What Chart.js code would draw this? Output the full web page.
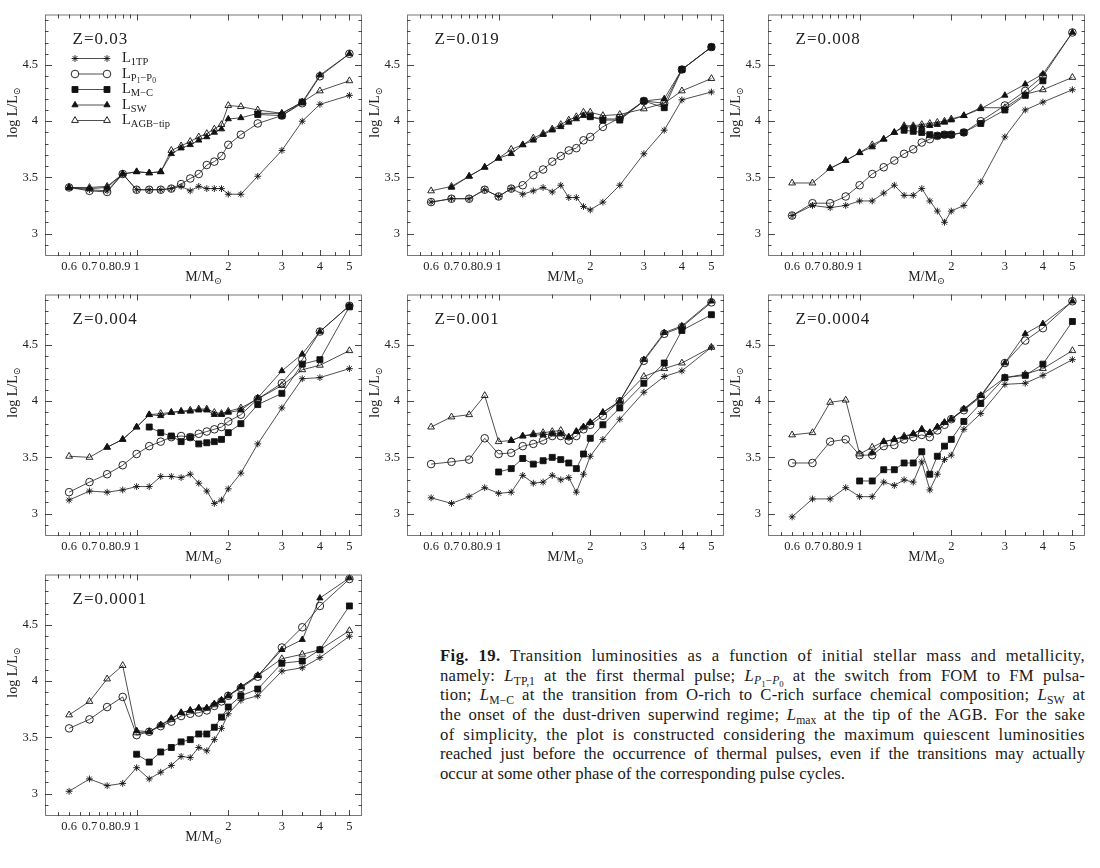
<!DOCTYPE html>
<html>
<head>
<meta charset="utf-8">
<script src="https://cdn.jsdelivr.net/npm/chart.js@4.4.1/dist/chart.umd.min.js"></script>
<style>
  html, body { margin: 0; padding: 0; background: #fff; }
  body { width: 1100px; height: 868px; position: relative; overflow: hidden; }
  canvas.panel { position: absolute; }
  #caption { position: absolute; left: 440px; top: 646px; width: 645px; color: #1a1a1a;
    font-family: "Liberation Serif", "DejaVu Serif", serif; font-size: 16.7px; line-height: 19.67px; }
  #caption div { white-space: nowrap; text-align: justify; text-align-last: justify; }
  #caption div.last { text-align-last: left; }
  #caption div.loose { letter-spacing: 0.4px; }
  #caption div.mid { letter-spacing: 0.2px; }
  #caption sub { font-size: 70%; line-height: 0; vertical-align: -0.3em; letter-spacing: 0; }
  #caption sub sub { font-size: 75%; }
</style>
</head>
<body>
<div id="caption">
  <div class="loose"><b>Fig. 19.</b> Transition luminosities as a function of initial stellar mass and metallicity,</div>
  <div class="mid">namely: <i>L</i><sub>TP,1</sub> at the first thermal pulse; <i>L</i><sub><i>P</i><sub>1</sub>−<i>P</i><sub>0</sub></sub> at the switch from FOM to FM pulsa-</div>
  <div class="mid">tion; <i>L</i><sub>M−C</sub> at the transition from O-rich to C-rich surface chemical composition; <i>L</i><sub>SW</sub> at</div>
  <div class="mid">the onset of the dust-driven superwind regime; <i>L</i><sub>max</sub> at the tip of the AGB. For the sake</div>
  <div class="loose">of simplicity, the plot is constructed considering the maximum quiescent luminosities</div>
  <div>reached just before the occurrence of thermal pulses, even if the transitions may actually</div>
  <div class="last">occur at some other phase of the corresponding pulse cycles.</div>
</div>
<script>
// initial stellar masses (M/Msun) shared by all panels
const masses = [0.6, 0.7, 0.8, 0.9, 1.0, 1.1, 1.2, 1.3, 1.4, 1.5, 1.6, 1.7, 1.8, 1.9, 2.0, 2.2, 2.5, 3.0, 3.5, 4.0, 5.0];
const xTickValues = [0.6, 0.7, 0.8, 0.9, 1, 2, 3, 4, 5];
const yTickValues = [3, 3.5, 4, 4.5];
const xMinorTicks = [0.55, 0.6, 0.65, 0.7, 0.75, 0.8, 0.85, 0.9, 0.95, 1, 1.5, 2, 2.5, 3, 3.5, 4, 4.5, 5];
const yMinorTicks = [2.9, 3, 3.1, 3.2, 3.3, 3.4, 3.5, 3.6, 3.7, 3.8, 3.9, 4, 4.1, 4.2, 4.3, 4.4, 4.5, 4.6, 4.7, 4.8, 4.9];

// Z = 0.03
const tp_z003   = [3.41, 3.39, 3.38, 3.53, 3.39, 3.39, 3.39, 3.40, 3.42, 3.38, 3.42, 3.40, 3.40, 3.40, 3.35, 3.35, 3.51, 3.74, 4.00, 4.15, 4.23];
const p1p0_z003 = [3.41, 3.38, 3.37, 3.53, 3.39, 3.39, 3.39, 3.40, 3.44, 3.49, 3.53, 3.61, 3.64, 3.69, 3.79, 3.88, 3.98, 4.05, 4.16, 4.40, 4.60];
const mc_z003   = [null, null, null, null, null, null, null, null, null, null, null, null, null, null, null, null, 4.06, 4.05, 4.17, null, null];
const sw_z003   = [3.41, 3.40, 3.41, 3.53, 3.55, 3.54, 3.55, 3.71, 3.76, 3.79, 3.83, 3.86, 3.90, 3.93, 4.02, 4.03, 4.07, 4.07, 4.17, 4.41, 4.60];
const tip_z003  = [3.41, 3.41, 3.42, 3.53, 3.55, 3.54, 3.55, 3.74, 3.78, 3.82, 3.86, 3.89, 3.93, 3.97, 4.14, 4.13, 4.10, 4.07, 4.17, 4.27, 4.36];

// Z = 0.019
const tp_z0019   = [3.28, 3.31, 3.31, 3.39, 3.33, 3.40, 3.35, 3.38, 3.41, 3.37, 3.43, 3.32, 3.32, 3.24, 3.21, 3.28, 3.43, 3.71, 3.92, 4.19, 4.26];
const p1p0_z0019 = [3.28, 3.31, 3.31, 3.39, 3.33, 3.40, 3.43, 3.52, 3.57, 3.64, 3.69, 3.74, 3.76, 3.83, 3.86, 3.95, 4.03, 4.18, 4.16, 4.46, 4.66];
const mc_z0019   = [null, null, null, null, null, null, null, null, null, null, null, null, null, null, 4.04, 4.01, 4.01, 4.18, 4.12, 4.46, 4.66];
const sw_z0019   = [null, 3.41, 3.51, 3.59, 3.67, 3.71, 3.79, 3.83, 3.88, 3.92, 3.95, 3.99, 4.02, 4.05, 4.04, 4.02, 4.02, 4.18, 4.20, 4.46, 4.66];
const tip_z0019  = [3.38, 3.42, 3.51, 3.59, 3.67, 3.75, 3.79, 3.85, 3.89, 3.93, 3.97, 4.01, 4.04, 4.08, 4.08, 4.05, 4.06, 4.11, 4.16, 4.27, 4.38];

// Z = 0.008
const tp_z0008   = [3.16, 3.25, 3.23, 3.25, 3.29, 3.29, 3.36, 3.43, 3.34, 3.34, 3.40, 3.29, 3.20, 3.10, 3.20, 3.25, 3.46, 3.86, 4.10, 4.17, 4.28];
const p1p0_z0008 = [3.16, 3.27, 3.27, 3.33, 3.43, 3.53, 3.59, 3.65, 3.71, 3.75, 3.81, 3.84, 3.87, 3.88, 3.88, 3.90, 4.00, 4.14, 4.27, 4.40, 4.79];
const mc_z0008   = [null, null, null, null, null, null, null, null, 3.92, 3.91, 3.90, 3.88, 3.87, 3.88, 3.88, 3.90, 3.98, 4.10, 4.23, 4.36, null];
const sw_z0008   = [null, null, 3.58, 3.65, 3.72, 3.77, 3.84, 3.90, 3.95, 3.95, 3.95, 3.96, 3.97, 3.99, 4.01, 4.05, 4.11, 4.23, 4.33, 4.42, 4.79];
const tip_z0008  = [3.45, 3.45, 3.58, 3.65, 3.72, 3.79, 3.84, 3.90, 3.96, 3.96, 3.97, 3.98, 3.99, 4.00, 4.02, 4.05, 4.12, 4.12, 4.24, 4.28, 4.39];

// Z = 0.004
const tp_z0004   = [3.12, 3.20, 3.19, 3.21, 3.24, 3.24, 3.33, 3.33, 3.32, 3.35, 3.27, 3.20, 3.09, 3.12, 3.22, 3.36, 3.62, 3.94, 4.20, 4.21, 4.29];
const p1p0_z0004 = [3.19, 3.28, 3.35, 3.43, 3.53, 3.60, 3.64, 3.68, 3.69, 3.68, 3.71, 3.73, 3.75, 3.77, 3.82, 3.88, 4.02, 4.16, 4.37, 4.62, 4.85];
const mc_z0004   = [null, null, null, null, null, 3.77, 3.72, 3.69, 3.64, 3.68, 3.62, 3.63, 3.64, 3.66, 3.72, 3.80, 3.97, 4.07, 4.33, 4.37, 4.84];
const sw_z0004   = [null, null, 3.59, 3.66, 3.77, 3.88, 3.87, 3.90, 3.91, 3.91, 3.92, 3.92, 3.88, 3.88, 3.90, 3.92, 4.03, 4.27, 4.42, 4.62, 4.85];
const tip_z0004  = [3.51, 3.50, 3.59, 3.66, 3.77, 3.88, 3.89, 3.90, 3.91, 3.92, 3.93, 3.93, 3.90, 3.89, 3.91, 3.94, 4.02, 4.14, 4.28, 4.32, 4.45];

// Z = 0.001
const tp_z0001   = [3.14, 3.09, 3.15, 3.23, 3.18, 3.19, 3.34, 3.27, 3.28, 3.34, 3.30, 3.32, 3.19, 3.35, 3.51, 3.66, 3.84, 4.08, 4.22, 4.27, 4.48];
const p1p0_z0001 = [3.44, 3.46, 3.48, 3.67, 3.53, 3.54, 3.60, 3.62, 3.65, 3.69, 3.69, 3.65, 3.69, 3.75, 3.79, 3.87, 4.00, 4.36, 4.60, 4.66, 4.88];
const mc_z0001   = [null, null, null, null, 3.37, 3.40, 3.49, 3.44, 3.47, 3.50, 3.48, 3.45, 3.40, 3.53, 3.67, 3.79, 3.94, 4.16, 4.34, 4.63, 4.77];
const sw_z0001   = [null, null, null, null, null, 3.65, 3.69, 3.70, 3.70, 3.71, 3.71, 3.68, 3.73, 3.77, 3.81, 3.90, 4.00, 4.37, 4.61, 4.67, 4.89];
const tip_z0001  = [3.77, 3.86, 3.88, 4.05, 3.64, 3.65, 3.69, 3.71, 3.72, 3.73, 3.74, 3.68, 3.73, 3.77, 3.81, 3.90, 4.00, 4.22, 4.29, 4.34, 4.48];

// Z = 0.0004
const tp_z00004   = [2.97, 3.13, 3.13, 3.23, 3.15, 3.15, 3.28, 3.25, 3.30, 3.28, 3.46, 3.21, 3.35, 3.48, 3.52, 3.75, 3.89, 4.15, 4.16, 4.23, 4.37];
const p1p0_z00004 = [3.45, 3.45, 3.64, 3.66, 3.52, 3.52, 3.60, 3.61, 3.66, 3.68, 3.70, 3.68, 3.74, 3.79, 3.84, 3.92, 4.04, 4.34, 4.54, 4.65, 4.89];
const mc_z00004   = [null, null, null, null, 3.29, 3.29, 3.39, 3.39, 3.45, 3.45, 3.55, 3.35, 3.51, 3.60, 3.66, 3.82, 3.98, 4.21, 4.23, 4.33, 4.71];
const sw_z00004   = [null, null, null, null, null, 3.54, 3.64, 3.66, 3.68, 3.71, 3.75, 3.72, 3.77, 3.81, 3.84, 3.93, 4.05, 4.34, 4.60, 4.69, 4.89];
const tip_z00004  = [3.70, 3.72, 3.99, 4.01, 3.53, 3.59, 3.64, 3.66, 3.69, 3.71, 3.75, 3.72, 3.77, 3.81, 3.84, 3.93, 4.05, 4.21, 4.24, 4.29, 4.45];

// Z = 0.0001
const tp_z00001   = [3.02, 3.13, 3.07, 3.09, 3.23, 3.13, 3.19, 3.25, 3.33, 3.32, 3.41, 3.38, 3.48, 3.58, 3.71, 3.83, 3.87, 4.09, 4.12, 4.21, 4.40];
const p1p0_z00001 = [3.58, 3.66, 3.77, 3.86, 3.52, 3.55, 3.60, 3.64, 3.69, 3.71, 3.72, 3.74, 3.78, 3.82, 3.87, 3.94, 4.04, 4.30, 4.48, 4.67, 4.91];
const mc_z00001   = [null, null, null, null, 3.35, 3.28, 3.37, 3.41, 3.46, 3.48, 3.53, 3.53, 3.59, 3.68, 3.77, 3.87, 3.93, 4.16, 4.18, 4.28, 4.67];
const sw_z00001   = [null, null, null, null, 3.56, 3.55, 3.61, 3.67, 3.72, 3.74, 3.76, 3.76, 3.80, 3.83, 3.87, 3.95, 4.05, 4.28, 4.37, 4.74, 4.92];
const tip_z00001  = [3.70, 3.82, 4.02, 4.14, 3.54, 3.55, 3.61, 3.66, 3.72, 3.74, 3.76, 3.76, 3.79, 3.83, 3.87, 3.95, 4.05, 4.20, 4.24, 4.28, 4.45];

const FONT = '"Liberation Serif", "DejaVu Serif", serif';
const INK = '#222';

// one marker style per transition, same order as the series in each panel
const seriesStyles = [
  { pointStyle: 'star', radius: 3.4, filled: false },
  { pointStyle: 'circle', radius: 3.8, filled: false },
  { pointStyle: 'rect', radius: 4.2, filled: true },
  { pointStyle: 'triangle', radius: 3.6, filled: true },
  { pointStyle: 'triangle', radius: 3.9, filled: false },
];

const legendLabels = [
  [['L', 14.5, 0], ['1TP', 10.5, 3]],
  [['L', 14.5, 0], ['P', 10.5, 3], ['1', 7.5, 5], ['−P', 10.5, 3], ['0', 7.5, 5]],
  [['L', 14.5, 0], ['M−C', 10.5, 3]],
  [['L', 14.5, 0], ['SW', 10.5, 3]],
  [['L', 14.5, 0], ['AGB−tip', 10.5, 3]],
];

const panels = [
  { z: '0.03', series: [tp_z003, p1p0_z003, mc_z003, sw_z003, tip_z003], left: 45, top: 8, legend: true },
  { z: '0.019', series: [tp_z0019, p1p0_z0019, mc_z0019, sw_z0019, tip_z0019], left: 406.5, top: 8 },
  { z: '0.008', series: [tp_z0008, p1p0_z0008, mc_z0008, sw_z0008, tip_z0008], left: 768, top: 8 },
  { z: '0.004', series: [tp_z0004, p1p0_z0004, mc_z0004, sw_z0004, tip_z0004], left: 45, top: 288 },
  { z: '0.001', series: [tp_z0001, p1p0_z0001, mc_z0001, sw_z0001, tip_z0001], left: 406.5, top: 288 },
  { z: '0.0004', series: [tp_z00004, p1p0_z00004, mc_z00004, sw_z00004, tip_z00004], left: 768, top: 288 },
  { z: '0.0001', series: [tp_z00001, p1p0_z00001, mc_z00001, sw_z00001, tip_z00001], left: 45, top: 568 },
];

const drawRich = (ctx, parts, x, y) => {
  parts.forEach(([text, size, dy]) => {
    ctx.font = size + 'px ' + FONT;
    ctx.fillText(text, x, y + dy);
    x += ctx.measureText(text).width;
  });
};

const richWidth = (ctx, parts) => {
  let w = 0;
  parts.forEach(([text, size]) => {
    ctx.font = size + 'px ' + FONT;
    w += ctx.measureText(text).width;
  });
  return w;
};

// frame with inward tick marks on all four sides
const frameTicks = {
  id: 'frameTicks',
  afterDatasetsDraw(chart) {
    const { ctx, chartArea: a, scales: { x, y } } = chart;
    ctx.save();
    ctx.strokeStyle = '#777';
    ctx.lineWidth = 1;
    ctx.strokeRect(a.left + 0.5, a.top + 0.5, a.width - 1, a.height - 1);
    ctx.strokeStyle = '#333';
    ctx.lineWidth = 0.9;
    ctx.beginPath();
    xMinorTicks.forEach((v) => {
      const px = Math.round(x.getPixelForValue(v)) + 0.5;
      const len = xTickValues.includes(v) && v >= 1 ? 6 : 4;
      ctx.moveTo(px, a.bottom);
      ctx.lineTo(px, a.bottom - len);
      ctx.moveTo(px, a.top);
      ctx.lineTo(px, a.top + len);
    });
    yMinorTicks.forEach((v) => {
      const py = Math.round(y.getPixelForValue(v)) + 0.5;
      const len = yTickValues.includes(v) ? 7 : 3.5;
      ctx.moveTo(a.left, py);
      ctx.lineTo(a.left + len, py);
      ctx.moveTo(a.right, py);
      ctx.lineTo(a.right - len, py);
    });
    ctx.stroke();
    ctx.restore();
  },
};

// panel label, axis titles with subscripts and the legend of the first panel
const panelText = (panel) => ({
  id: 'panelText',
  afterDraw(chart) {
    const { ctx, chartArea: a } = chart;
    ctx.save();
    ctx.fillStyle = INK;
    ctx.textBaseline = 'alphabetic';

    ctx.font = '17px ' + FONT;
    ctx.letterSpacing = '1px';
    ctx.fillText('Z=' + panel.z, a.left + 27.5, a.top + 29.5);
    ctx.letterSpacing = '0px';

    const xTitle = [['M/M', 14, 0], ['⊙', 9.5, 3]];
    drawRich(ctx, xTitle, (a.left + a.right) / 2 - richWidth(ctx, xTitle) / 2, a.bottom + 25);

    const yTitle = [['log L/L', 14, 0], ['⊙', 9.5, 3]];
    ctx.save();
    ctx.translate(17, a.top + 98);
    ctx.rotate(-Math.PI / 2);
    drawRich(ctx, yTitle, -richWidth(ctx, yTitle) / 2, 0);
    ctx.restore();

    if (panel.legend) {
      const rows = [44, 59.5, 75, 90.5, 106];
      seriesStyles.forEach((style, i) => {
        const ry = a.top + rows[i];
        const x1 = a.left + 30;
        const x2 = a.left + 62;
        ctx.strokeStyle = '#222';
        ctx.lineWidth = 0.8;
        ctx.beginPath();
        ctx.moveTo(x1, ry);
        ctx.lineTo(x2, ry);
        ctx.stroke();
        [x1, x2].forEach((px) => {
          ctx.fillStyle = style.filled ? '#111' : '#fff';
          ctx.strokeStyle = '#111';
          ctx.lineWidth = 0.9;
          Chart.helpers.drawPoint(ctx, { pointStyle: style.pointStyle, radius: style.radius, rotation: 0, borderWidth: 0.9 }, px, ry);
        });
        ctx.fillStyle = INK;
        drawRich(ctx, legendLabels[i], a.left + 77, ry + 3.5);
      });
    }
    ctx.restore();
  },
});

const makeDatasets = (panel) =>
  panel.series.map((values, i) => {
    const style = seriesStyles[i];
    return {
      data: masses.map((m, k) => ({ x: m, y: values[k] })),
      borderColor: '#222',
      borderWidth: 0.8,
      tension: 0,
      spanGaps: false,
      pointStyle: style.pointStyle,
      pointRadius: style.radius,
      pointBorderWidth: 0.9,
      pointBorderColor: '#111',
      pointBackgroundColor: style.filled ? '#111' : 'rgba(0,0,0,0)',
    };
  });

panels.forEach((panel) => {
  const canvas = document.createElement('canvas');
  canvas.className = 'panel';
  canvas.width = 370;
  canvas.height = 290;
  canvas.style.width = '370px';
  canvas.style.height = '290px';
  canvas.style.left = (panel.left - 45) + 'px';
  canvas.style.top = (panel.top - 8) + 'px';
  document.body.appendChild(canvas);

  new Chart(canvas, {
    type: 'line',
    data: { datasets: makeDatasets(panel) },
    options: {
      responsive: false,
      animation: false,
      layout: { padding: { top: 8, right: 8, left: 0, bottom: 0 } },
      plugins: {
        legend: { display: false },
        tooltip: { enabled: false },
      },
      scales: {
        x: {
          type: 'logarithmic',
          min: 0.5,
          max: 5.5,
          afterBuildTicks: (scale) => {
            scale.ticks = xTickValues.map((v) => ({ value: v }));
          },
          afterFit: (scale) => {
            scale.height = 34;
          },
          grid: { display: false, drawTicks: false },
          border: { display: false },
          ticks: {
            autoSkip: false,
            maxRotation: 0,
            padding: 3,
            color: INK,
            font: { family: FONT, size: 12.5 },
            callback: (v) => String(v),
          },
        },
        y: {
          min: 2.8,
          max: 4.95,
          afterBuildTicks: (scale) => {
            scale.ticks = yTickValues.map((v) => ({ value: v }));
          },
          afterFit: (scale) => {
            scale.width = 45;
          },
          grid: { display: false, drawTicks: false },
          border: { display: false },
          ticks: {
            padding: 7,
            color: INK,
            font: { family: FONT, size: 12.5 },
            callback: (v) => String(v),
          },
        },
      },
    },
    plugins: [frameTicks, panelText(panel)],
  });
});
</script>
</body>
</html>
